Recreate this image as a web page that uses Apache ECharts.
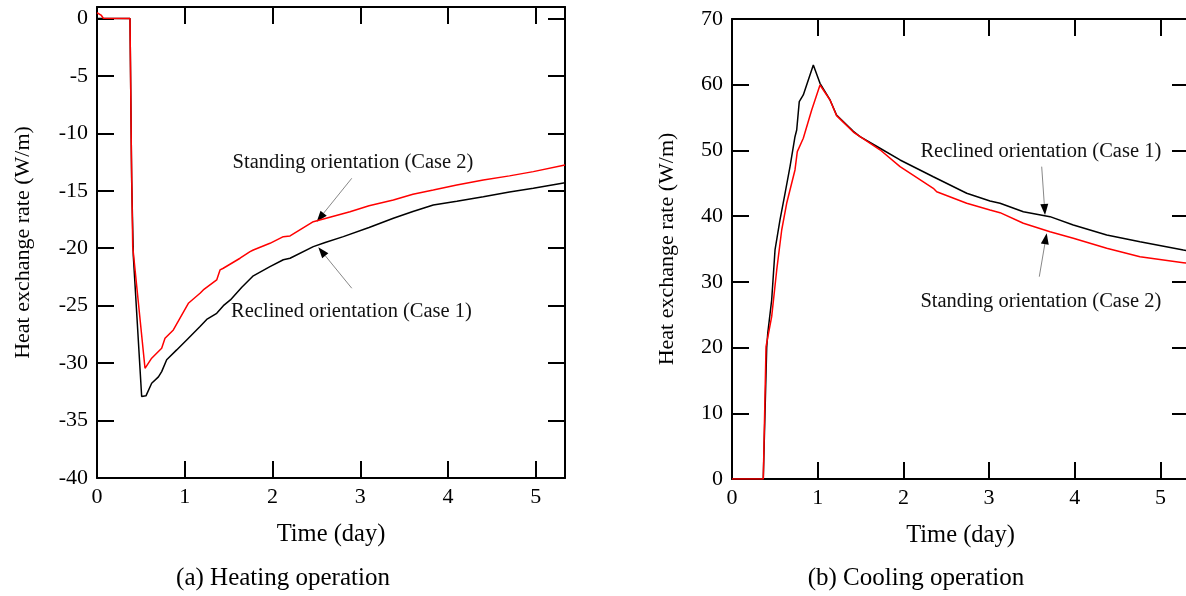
<!DOCTYPE html>
<html><head><meta charset="utf-8">
<script src="https://cdn.jsdelivr.net/npm/echarts@6/dist/echarts.min.js"></script>
<style>html,body{margin:0;padding:0;background:#fff}#c{width:1186px;height:596px}</style>
</head><body><div id="c"></div>
<script>
// ---------- data ----------
const X_MAX = 5.333;
const xTickValues = [0, 1, 2, 3, 4, 5];
const heatYTicks = [-40, -35, -30, -25, -20, -15, -10, -5, 0];
const coolYTicks = [0, 10, 20, 30, 40, 50, 60, 70];

// (a) Heating operation
const heatReclinedDays = [0, 0.376, 0.395, 0.414, 0.509, 0.558, 0.623, 0.70, 0.737, 0.794, 0.908, 1.022, 1.174, 1.25, 1.364, 1.44, 1.52, 1.65, 1.781, 1.971, 2.123, 2.2, 2.465, 2.6, 2.807, 3.1, 3.377, 3.6, 3.832, 4.1, 4.402, 4.7, 4.972, 5.333];
const heatReclinedRate = [0, 0, -14.1, -20.7, -32.9, -32.85, -31.75, -31.2, -30.74, -29.7, -28.85, -27.98, -26.82, -26.2, -25.66, -25.0, -24.5, -23.4, -22.4, -21.6, -21.0, -20.87, -19.86, -19.5, -18.99, -18.2, -17.39, -16.8, -16.23, -15.9, -15.51, -15.1, -14.78, -14.29];
const heatStandingDays = [0, 0.046, 0.072, 0.376, 0.392, 0.407, 0.547, 0.623, 0.737, 0.775, 0.87, 1.041, 1.174, 1.211, 1.364, 1.402, 1.439, 1.63, 1.744, 1.781, 1.971, 2.123, 2.2, 2.465, 2.883, 3.1, 3.377, 3.6, 3.832, 4.1, 4.402, 4.7, 4.972, 5.333];
const heatStandingRate = [0.5, 0.3, 0.02, 0, -12, -19.86, -30.45, -29.57, -28.7, -27.83, -27.11, -24.79, -23.92, -23.63, -22.76, -21.89, -21.74, -20.87, -20.3, -20.15, -19.57, -18.99, -18.93, -17.69, -16.82, -16.3, -15.8, -15.3, -14.93, -14.5, -14.06, -13.7, -13.33, -12.75];

// (b) Cooling operation
const coolReclinedDays = [0, 0.365, 0.405, 0.417, 0.463, 0.502, 0.56, 0.619, 0.677, 0.735, 0.755, 0.785, 0.832, 0.949, 1.027, 1.144, 1.22, 1.416, 1.494, 1.727, 1.961, 2.349, 2.739, 3.011, 3.128, 3.4, 3.711, 3.983, 4.373, 4.761, 5.267, 5.333];
const coolReclinedRate = [0, 0, 19.98, 22.17, 27.24, 34.85, 39.42, 43.48, 47.53, 52.09, 53.11, 57.42, 58.44, 63.0, 60.22, 57.68, 55.4, 52.9, 52.1, 50.33, 48.55, 46.0, 43.48, 42.31, 41.96, 40.68, 39.92, 38.65, 37.13, 36.11, 34.85, 34.7];
const coolStandingDays = [0, 0.365, 0.397, 0.463, 0.522, 0.58, 0.638, 0.735, 0.762, 0.832, 0.93, 1.027, 1.144, 1.22, 1.416, 1.727, 1.961, 2.349, 2.389, 2.739, 3.011, 3.128, 3.4, 3.711, 3.983, 4.373, 4.761, 5.267, 5.333];
const coolStandingRate = [0, 0, 20.13, 24.7, 31.81, 37.89, 41.96, 47.03, 49.81, 51.85, 56.16, 59.96, 57.68, 55.3, 52.8, 50.1, 47.53, 44.24, 43.72, 41.96, 40.94, 40.53, 38.91, 37.63, 36.63, 35.11, 33.83, 32.92, 32.8];

// annotations (data coordinates: text centre, arrow tail, arrow tip)
const heatNotes = [
  {text: 'Standing orientation (Case 2)', at: [2.917, -12.58], from: [2.903, -13.91], to: [2.504, -17.69]},
  {text: 'Reclined orientation (Case 1)', at: [2.90, -25.52], from: [2.903, -23.48], to: [2.522, -19.91]}
];
const coolNotes = [
  {text: 'Reclined orientation (Case 1)', at: [3.604, 49.81], from: [3.614, 47.53], to: [3.653, 40.18]},
  {text: 'Standing orientation (Case 2)', at: [3.604, 26.98], from: [3.586, 30.79], to: [3.672, 37.39]}
];
const panelTitles = ['(a) Heating operation', '(b) Cooling operation'];
const xName = 'Time (day)';
const yName = 'Heat exchange rate (W/m)';

// ---------- chart ----------
const FONT = '"Liberation Serif", "Times New Roman", serif';
const zip = (xs, ys) => xs.map((x, i) => [x, ys[i]]);

function xAx(grid, pos, main) {
  return {
    type: 'value', gridIndex: grid, position: pos, min: 0, max: X_MAX, interval: 1,
    axisLine: {show: true, onZero: false, lineStyle: {color: '#000', width: 2}},
    axisTick: {show: true, inside: true, length: 17, lineStyle: {color: '#000', width: 2}},
    axisLabel: {show: main, margin: 8, fontFamily: FONT, fontSize: 22, color: '#000',
      formatter: v => xTickValues.includes(v) ? String(v) : ''},
    splitLine: {show: false},
    name: main ? xName : '', nameLocation: 'middle', nameGap: 44,
    nameTextStyle: {fontFamily: FONT, fontSize: 24.5, color: '#000'}
  };
}
function yAx(grid, pos, main, min, max, interval, ticks, gap) {
  return {
    type: 'value', gridIndex: grid, position: pos, min: min, max: max, interval: interval,
    axisLine: {show: true, onZero: false, lineStyle: {color: '#000', width: 2}},
    axisTick: {show: true, inside: true, length: 17, lineStyle: {color: '#000', width: 2}},
    axisLabel: {show: main, margin: 9, fontFamily: FONT, fontSize: 22, color: '#000',
      formatter: v => ticks.includes(v) ? String(v) : ''},
    splitLine: {show: false},
    name: main ? yName : '', nameLocation: 'middle', nameGap: gap, nameRotate: 90,
    nameTextStyle: {fontFamily: FONT, fontSize: 22, color: '#000'}
  };
}
function line(xi, yi, data, color) {
  return {type: 'line', xAxisIndex: xi, yAxisIndex: yi, data: data, showSymbol: false, symbol: 'none',
    lineStyle: {color: color, width: 1.5}, itemStyle: {color: color}, emphasis: {disabled: true}, silent: true};
}

const chart = echarts.init(document.getElementById('c'), null, {renderer: 'canvas'});
chart.setOption({
  animation: false,
  backgroundColor: '#fff',
  grid: [
    {left: 97, top: 7, width: 468, height: 471, containLabel: false, outerBoundsMode: 'none'},
    {left: 732, top: 19, width: 457, height: 460, containLabel: false, outerBoundsMode: 'none'}
  ],
  xAxis: [xAx(0, 'bottom', true), xAx(0, 'top', false), xAx(1, 'bottom', true), xAx(1, 'top', false)],
  yAxis: [
    yAx(0, 'left', true, -40, 1, 5, heatYTicks, 63), yAx(0, 'right', false, -40, 1, 5, heatYTicks, 0),
    yAx(1, 'left', true, 0, 70, 10, coolYTicks, 54), yAx(1, 'right', false, 0, 70, 10, coolYTicks, 0)
  ],
  series: [
    line(0, 0, zip(heatReclinedDays, heatReclinedRate), '#000'),
    line(0, 0, zip(heatStandingDays, heatStandingRate), '#ff0000'),
    line(2, 2, zip(coolReclinedDays, coolReclinedRate), '#000'),
    line(2, 2, zip(coolStandingDays, coolStandingRate), '#ff0000')
  ]
});

function noteGraphics(notes, seriesIndex) {
  const out = [];
  notes.forEach(n => {
    const t = chart.convertToPixel({seriesIndex}, n.at);
    const a = chart.convertToPixel({seriesIndex}, n.from);
    const b = chart.convertToPixel({seriesIndex}, n.to);
    out.push({type: 'text', x: t[0], y: t[1], style: {text: n.text, font: '20.5px ' + FONT, fill: '#111', textAlign: 'center', textVerticalAlign: 'middle'}});
    const dx = b[0] - a[0], dy = b[1] - a[1], L = Math.hypot(dx, dy), ux = dx / L, uy = dy / L;
    const hl = 11, hw = 4;
    const bx = b[0] - ux * hl, by = b[1] - uy * hl;
    out.push({type: 'line', shape: {x1: a[0], y1: a[1], x2: bx, y2: by}, style: {stroke: '#888', lineWidth: 1}});
    out.push({type: 'polygon', shape: {points: [[b[0], b[1]], [bx - uy * hw, by + ux * hw], [bx + uy * hw, by - ux * hw]]}, style: {fill: '#000'}});
  });
  return out;
}
const g = [].concat(noteGraphics(heatNotes, 0), noteGraphics(coolNotes, 2));
g.push({type: 'text', x: 283, y: 578, style: {text: panelTitles[0], font: '25px ' + FONT, fill: '#000', textAlign: 'center', textVerticalAlign: 'middle'}});
g.push({type: 'text', x: 916, y: 578, style: {text: panelTitles[1], font: '25px ' + FONT, fill: '#000', textAlign: 'center', textVerticalAlign: 'middle'}});
chart.setOption({graphic: g});
</script></body></html>
